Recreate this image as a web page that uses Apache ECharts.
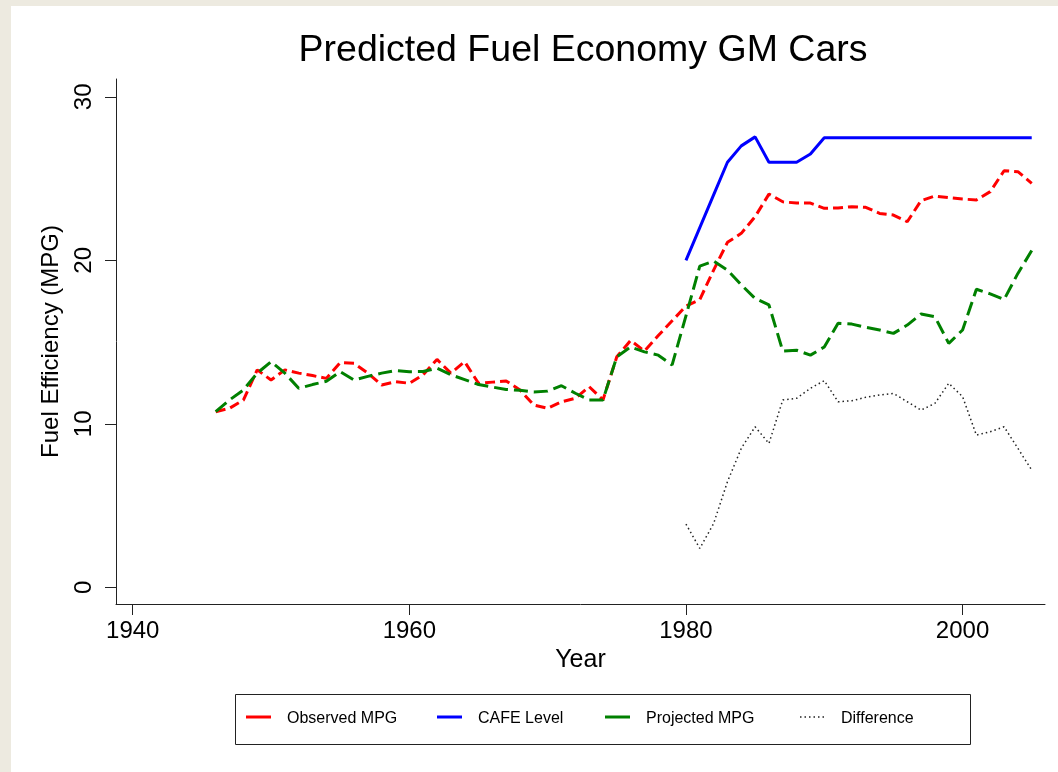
<!DOCTYPE html>
<html>
<head>
<meta charset="utf-8">
<title>Predicted Fuel Economy GM Cars</title>
<script src="https://cdn.jsdelivr.net/npm/echarts@6/dist/echarts.min.js"></script>
<style>
  html, body { margin: 0; padding: 0; background: #edeae0; }
  .paper { position: absolute; left: 11px; top: 6px; right: 0; bottom: 0; background: #fff; }
  #chart { position: absolute; left: 0; top: 0; width: 1058px; height: 772px; }
</style>
</head>
<body>
<div class="paper"></div>
<div id="chart"></div>
<script>
// model years
const years = [
  1946, 1947, 1948, 1949, 1950, 1951, 1952, 1953, 1954, 1955,
  1956, 1957, 1958, 1959, 1960, 1961, 1962, 1963, 1964, 1965,
  1966, 1967, 1968, 1969, 1970, 1971, 1972, 1973, 1974, 1975,
  1976, 1977, 1978, 1979, 1980, 1981, 1982, 1983, 1984, 1985,
  1986, 1987, 1988, 1989, 1990, 1991, 1992, 1993, 1994, 1995,
  1996, 1997, 1998, 1999, 2000, 2001, 2002, 2003, 2004, 2005
];
const observedMpg = [
  10.74, 10.95, 11.45, 13.3, 12.68, 13.3, 13.1, 12.95, 12.78, 13.74,
  13.7, 13.1, 12.37, 12.58, 12.48, 13.0, 13.94, 13.1, 13.8, 12.48,
  12.55, 12.62, 12.07, 11.15, 10.95, 11.35, 11.56, 12.27, 11.46, 14.1,
  15.1, 14.45, 15.4, 16.3, 17.2, 17.6, 19.4, 21.1, 21.65, 22.67,
  24.05, 23.58, 23.5, 23.5, 23.18, 23.2, 23.28, 23.24, 22.87, 22.77,
  22.36, 23.65, 23.93, 23.83, 23.75, 23.69, 24.2, 25.48, 25.42, 24.71
];
const projectedMpg = [
  10.74, 11.46, 12.07, 13.1, 13.8, 13.1, 12.17, 12.4, 12.6, 13.19,
  12.68, 12.9, 13.1, 13.25, 13.19, 13.2, 13.4, 13.0, 12.7, 12.4,
  12.25, 12.1, 12.05, 11.95, 12.0, 12.33, 11.87, 11.46, 11.46, 14.1,
  14.7, 14.4, 14.2, 13.6, 16.6, 19.65, 19.95, 19.4, 18.5, 17.67,
  17.27, 14.45, 14.5, 14.2, 14.7, 16.15, 16.1, 15.9, 15.74, 15.53,
  16.04, 16.72, 16.55, 14.92, 15.74, 18.23, 17.95, 17.6, 19.2, 20.6
];

// CAFE era (1980 onwards)
const cafeYears = [
  1980, 1981, 1982, 1983, 1984, 1985, 1986, 1987, 1988, 1989,
  1990, 1991, 1992, 1993, 1994, 1995, 1996, 1997, 1998, 1999,
  2000, 2001, 2002, 2003, 2004, 2005
];
const cafeLevel = [
  20.0, 22.0, 24.0, 26.0, 27.0, 27.55, 26.0, 26.0, 26.0, 26.5,
  27.5, 27.5, 27.5, 27.5, 27.5, 27.5, 27.5, 27.5, 27.5, 27.5,
  27.5, 27.5, 27.5, 27.5, 27.5, 27.5
];
const difference = [
  3.87, 2.38, 3.9, 6.46, 8.5, 9.82, 8.8, 11.46, 11.56, 12.17,
  12.64, 11.35, 11.41, 11.62, 11.76, 11.86, 11.35, 10.84, 11.25, 12.48,
  11.66, 9.31, 9.52, 9.82, 8.5, 7.17
];

const xTicks = [1940, 1960, 1980, 2000];
const yTicks = [0, 10, 20, 30];

const pairs = (xs, ys) => xs.map((x, i) => [x, ys[i]]);
const font = "'Liberation Sans', Arial, sans-serif";

const chart = echarts.init(document.getElementById("chart"), null, { renderer: "canvas" });

// one legend per entry so every key sits where it does in the picture;
// the legend's own icon is hidden and the key is drawn as a plain segment below
function legendAt(name, left) {
  return {
    left: left,
    top: 711,
    itemWidth: 25,
    itemHeight: 3,
    padding: 0,
    selectedMode: false,
    itemStyle: { opacity: 0 },
    lineStyle: { opacity: 0 },
    textStyle: { fontFamily: font, fontSize: 16, color: "#000", padding: [0, 0, 0, 11] },
    data: [{ name: name, icon: "rect" }],
  };
}

function legendKey(x, color, width, dash) {
  return {
    type: "line",
    silent: true,
    shape: { x1: x, y1: 717, x2: x + 25, y2: 717 },
    style: { stroke: color, lineWidth: width, lineDash: dash || null },
  };
}

const option = {
  backgroundColor: "transparent",
  animation: false,
  title: {
    text: "Predicted Fuel Economy GM Cars",
    left: 578,
    textAlign: "center",
    top: 27,
    textStyle: { fontFamily: font, fontSize: 37.5, fontWeight: "normal", color: "#000" },
  },
  grid: { left: 116, right: 13, top: 79, bottom: 168 },
  xAxis: {
    type: "value",
    min: 1938.79,
    max: 2005.96,
    name: "Year",
    nameLocation: "middle",
    nameGap: 43,
    nameTextStyle: { fontFamily: font, fontSize: 25, color: "#000" },
    splitLine: { show: false },
    axisLine: { onZero: false, lineStyle: { color: "#222", width: 1 } },
    axisTick: { inside: false, length: 11, customValues: xTicks, lineStyle: { color: "#222" } },
    axisLabel: {
      customValues: xTicks,
      margin: 15,
      fontFamily: font,
      fontSize: 24,
      color: "#000",
      formatter: (v) => String(v),
    },
  },
  yAxis: {
    type: "value",
    min: -1.02,
    max: 31.09,
    name: "Fuel Efficiency (MPG)",
    nameLocation: "middle",
    nameGap: 53,
    nameRotate: 90,
    nameTextStyle: { fontFamily: font, fontSize: 24, color: "#000" },
    splitLine: { show: false },
    axisLine: { show: true, onZero: false, lineStyle: { color: "#222", width: 1 } },
    axisTick: { show: true, inside: false, length: 11, customValues: yTicks, lineStyle: { color: "#222" } },
    axisLabel: { customValues: yTicks, rotate: 90, margin: 20, fontFamily: font, fontSize: 24, color: "#000" },
  },
  legend: [
    legendAt("Observed MPG", 246),
    legendAt("CAFE Level", 437),
    legendAt("Projected MPG", 605),
    legendAt("Difference", 800),
  ],
  graphic: [
    {
      type: "rect",
      left: 233,
      top: 692,
      shape: { width: 735, height: 50 },
      style: { fill: "none", stroke: "#222", lineWidth: 1 },
      silent: true,
    },
    legendKey(246, "#ff0000", 3),
    legendKey(437, "#0000ff", 3),
    legendKey(605, "#008000", 3),
    legendKey(800, "#222", 1.5, [1.5, 3]),
  ],
  series: [
    {
      name: "Observed MPG",
      type: "line",
      data: pairs(years, observedMpg),
      symbol: "none",
      color: "#ff0000",
      lineStyle: { color: "#ff0000", width: 3, type: [10, 5] },
    },
    {
      name: "CAFE Level",
      type: "line",
      data: pairs(cafeYears, cafeLevel),
      symbol: "none",
      color: "#0000ff",
      lineStyle: { color: "#0000ff", width: 3 },
    },
    {
      name: "Projected MPG",
      type: "line",
      data: pairs(years, projectedMpg),
      symbol: "none",
      color: "#008000",
      lineStyle: { color: "#008000", width: 3, type: [14, 6] },
    },
    {
      name: "Difference",
      type: "line",
      data: pairs(cafeYears, difference),
      symbol: "none",
      color: "#222",
      lineStyle: { color: "#222", width: 1.5, type: [1.5, 3] },
    },
  ],
};

chart.setOption(option);
</script>
</body>
</html>
